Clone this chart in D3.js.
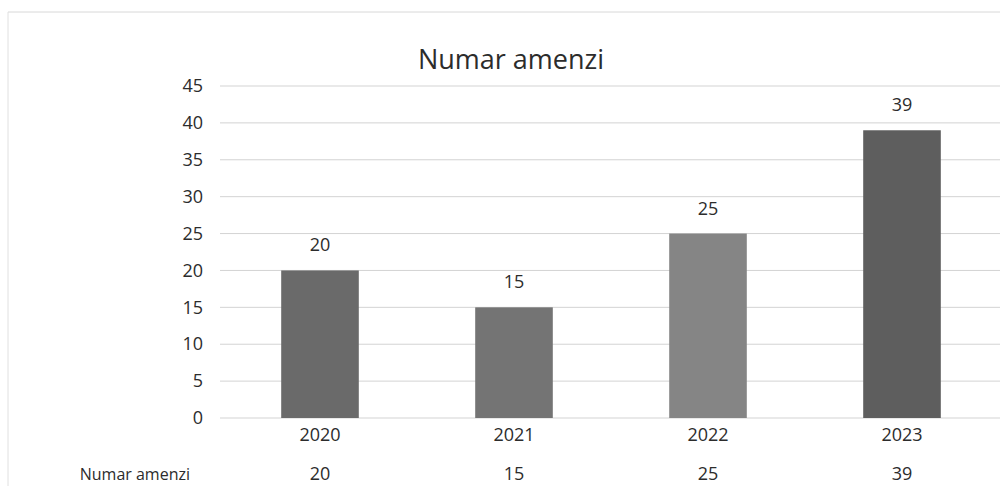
<!DOCTYPE html>
<html lang="ro">
<head>
<meta charset="UTF-8">
<title>Numar amenzi</title>
<script src="https://d3js.org/d3.v7.min.js"></script>
<style>
  body { margin: 0; background: #fff; }
  text { font-family: "Open Sans", sans-serif; fill: #2c2c2c; }
</style>
</head>
<body>
<svg id="main" width="1000" height="486"></svg>
<script>
  const years = ['2020', '2021', '2022', '2023'];
  const amenzi = [20, 15, 25, 39];
  const yTicks = [0, 5, 10, 15, 20, 25, 30, 35, 40, 45];
  const barColors = ['#6a6a6a', '#747474', '#858585', '#5e5e5e'];
  const seriesName = 'Numar amenzi';

  const svg = d3.select('svg#main');

  // faint scan frame
  svg.append('line').attr('x1', 8).attr('x2', 1000).attr('y1', 12).attr('y2', 12)
    .attr('stroke', '#d8d8d8').attr('stroke-width', 1);
  svg.append('line').attr('x1', 8).attr('x2', 8).attr('y1', 12).attr('y2', 486)
    .attr('stroke', '#e0e0e0').attr('stroke-width', 1);

  const x = d3.scaleBand().domain(years).range([223, 999])
    .paddingInner(0.6).paddingOuter(0.3);
  const y = d3.scaleLinear().domain([0, 45]).range([418, 86]);

  // gridlines
  svg.append('g').selectAll('line')
    .data(yTicks)
    .enter().append('line')
    .attr('x1', 220).attr('x2', 1000)
    .attr('y1', d => y(d)).attr('y2', d => y(d))
    .attr('stroke', '#d3d3d3').attr('stroke-width', 1);

  // y axis labels
  const yAxis = d3.axisLeft(y).tickValues(yTicks).tickSize(0).tickPadding(0);
  svg.append('g').attr('transform', 'translate(203,0)').call(yAxis)
    .call(g => g.select('.domain').remove())
    .selectAll('text').style('font-size', '18px').style('font-weight', 500).attr('fill', '#2c2c2c');

  // bars
  svg.append('g').selectAll('rect')
    .data(amenzi)
    .enter().append('rect')
    .attr('x', (d, i) => x(years[i]))
    .attr('width', x.bandwidth())
    .attr('y', d => y(d))
    .attr('height', d => y(0) - y(d))
    .attr('fill', (d, i) => barColors[i]);

  // value labels
  svg.append('g').selectAll('text')
    .data(amenzi)
    .enter().append('text')
    .attr('x', (d, i) => x(years[i]) + x.bandwidth() / 2)
    .attr('y', d => y(d) - 19)
    .attr('text-anchor', 'middle')
    .style('font-size', '18px').style('font-weight', 500)
    .text(d => d);

  // x axis labels
  const xAxis = d3.axisBottom(x).tickSize(0).tickPadding(0);
  svg.append('g').attr('transform', 'translate(0,428)').call(xAxis)
    .call(g => g.select('.domain').remove())
    .selectAll('text').style('font-size', '18px').style('font-weight', 500).attr('fill', '#2c2c2c');

  // data table row
  svg.append('text').attr('x', 190).attr('y', 480).attr('text-anchor', 'end')
    .style('font-size', '16px').style('font-weight', 500).text(seriesName);
  svg.append('g').selectAll('text')
    .data(amenzi)
    .enter().append('text')
    .attr('x', (d, i) => x(years[i]) + x.bandwidth() / 2)
    .attr('y', 480)
    .attr('text-anchor', 'middle')
    .style('font-size', '18px').style('font-weight', 500)
    .text(d => d);

  // title
  svg.append('text').attr('x', 511).attr('y', 69).attr('text-anchor', 'middle')
    .style('font-size', '27px').text(seriesName);
</script>
</body>
</html>
